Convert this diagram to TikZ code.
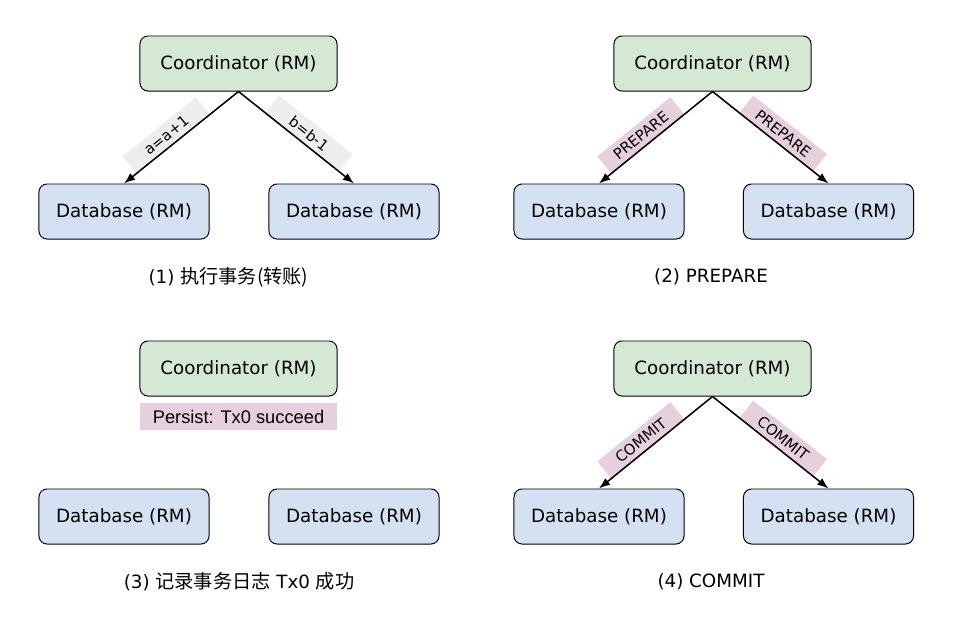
\documentclass[tikz,border=0pt]{standalone}
\usepackage{fontspec}
\setmainfont{DejaVu Sans}
\newfontfamily\cjk[Scale=1.05]{Noto Sans CJK SC}
\newfontfamily\notefont{Liberation Sans}
\usetikzlibrary{arrows.meta}

\definecolor{coordgreen}{HTML}{D5E8D4}
\definecolor{dbblue}{HTML}{D4E1F2}
\definecolor{notepink}{HTML}{E6D0DE}
\definecolor{opgray}{HTML}{EEEEEE}

\tikzset{
  coordbox/.style={draw, line width=0.7pt, rounded corners=0.2cm, fill=coordgreen,
    minimum width=4.925cm, minimum height=1.375cm, font=\fontsize{13}{15}\selectfont},
  dbbox/.style={coordbox, fill=dbblue, minimum width=4.25cm},
  msg/.style={-Latex, line width=1.1pt},
  oplabel/.style={behind path, sloped, above=-0.5pt, fill=opgray, inner sep=1pt,
    minimum width=2.35cm, minimum height=0.55cm, font=\fontsize{10.5}{12}\selectfont},
  phaselabel/.style={oplabel, fill=notepink},
  notebox/.style={fill=notepink, minimum width=4.925cm, minimum height=0.675cm,
    font=\notefont\fontsize{13}{15}\selectfont},
  phasecap/.style={font=\fontsize{13}{15}\selectfont},
}

\begin{document}
\begin{tikzpicture}[x=0.025cm, y=-0.025cm]
  \useasboundingbox (0,0) rectangle (961,625);

  % (1) execute
  \node[coordbox] (coordA) at (238.5,63.5) {Coordinator (RM)};
  \node[dbbox] (dbA1) at (124,211.5) {Database (RM)};
  \node[dbbox] (dbA2) at (354,211.5) {Database (RM)};
  \draw[msg] (coordA.south) -- node[oplabel, pos=0.57] {a=a+1} (dbA1.north);
  \draw[msg] (coordA.south) -- node[oplabel, pos=0.55] {b=b-1} (dbA2.north);
  \node[phasecap] (capA) at (228.5,277) {(1) {\cjk 执行事务(转账)}};

  % (2) prepare
  \node[coordbox] (coordB) at (712.5,63.5) {Coordinator (RM)};
  \node[dbbox] (dbB1) at (599,211.5) {Database (RM)};
  \node[dbbox] (dbB2) at (828.5,211.5) {Database (RM)};
  \draw[msg] (coordB.south) -- node[phaselabel, pos=0.57] {PREPARE} (dbB1.north);
  \draw[msg] (coordB.south) -- node[phaselabel, pos=0.55] {PREPARE} (dbB2.north);
  \node[phasecap] (capB) at (711,277) {(2) PREPARE};

  % (3) log
  \node[coordbox] (coordC) at (238.5,368.5) {Coordinator (RM)};
  \node[notebox] (noteC) at (238.5,416.5) {Persist: Tx0 succeed};
  \node[dbbox] (dbC1) at (124,516.5) {Database (RM)};
  \node[dbbox] (dbC2) at (354,516.5) {Database (RM)};
  \node[phasecap] (capC) at (239,582) {(3) {\cjk 记录事务日志} Tx0 {\cjk 成功}};

  % (4) commit
  \node[coordbox] (coordD) at (712.5,368.5) {Coordinator (RM)};
  \node[dbbox] (dbD1) at (599,516.5) {Database (RM)};
  \node[dbbox] (dbD2) at (828.5,516.5) {Database (RM)};
  \draw[msg] (coordD.south) -- node[phaselabel, pos=0.57] {COMMIT} (dbD1.north);
  \draw[msg] (coordD.south) -- node[phaselabel, pos=0.55] {COMMIT} (dbD2.north);
  \node[phasecap] (capD) at (711,582) {(4) COMMIT};
\end{tikzpicture}
\end{document}
